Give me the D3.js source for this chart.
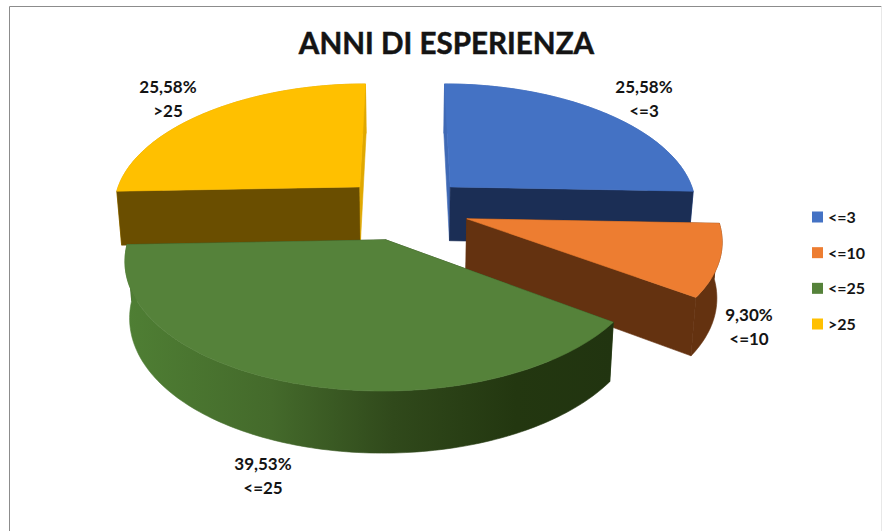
<!DOCTYPE html>
<html>
<head>
<meta charset="utf-8">
<script src="https://cdn.jsdelivr.net/npm/d3@7"></script>
<style>
  html, body { margin: 0; padding: 0; background: #fff; }
  text { font-family: Lato, "Open Sans", sans-serif; font-weight: 700; fill: #141414; }
</style>
</head>
<body>
<div id="chart"></div>
<script>
// data
const categories = ["<=3", "<=10", "<=25", ">25"];
const counts = [11, 4, 17, 11];
const percentLabels = ["25,58%", "9,30%", "39,53%", "25,58%"];
const title = "ANNI DI ESPERIENZA";

// colours per slice: top, outer wall, start face, end face
const topColors = ["#4472c4", "#ed7d31", "#55823a", "#ffc000"];
const wallColors = ["#3f69b5", "#643210", "url(#greenWall)", "#dba500"];
const startFace = ["#3f69b5", "#643210", "#2a4318", "#6a4e00"];
const endFace = ["#1b2e55", "#643210", "#2a4318", "#e0a800"];
// label centres, not marks
const labelAt = [[644, 88], [749, 316], [263, 465], [168, 88]];

const width = 885, height = 531;

const svg = d3.select("#chart").append("svg")
    .attr("width", width)
    .attr("height", height)
    .style("display", "block");

const defs = svg.append("defs");
const grad = defs.append("linearGradient").attr("id", "greenWall");
[[0, "#4f7f34"], [0.3, "#446a2b"], [0.55, "#30491b"], [0.8, "#233710"], [1, "#213410"]].forEach(s => {
    grad.append("stop").attr("offset", s[0]).attr("stop-color", s[1]);
});

// frame
svg.append("path")
    .attr("d", "M9.5,531V6.5H881.5")
    .attr("fill", "none")
    .attr("stroke", "#8c8c8c");
svg.append("path")
    .attr("d", "M881.5,6.5V531")
    .attr("fill", "none")
    .attr("stroke", "#e8e8e8");

// perspective of the pie plane, radius = 1, z = 0 top, z = 1 bottom
const xc = 405, xScale = 248, yHorizon = -710, hScale = 918.4, k = 0.1328, thick = 54.7, explode = 0.26;

function project(u, v, z) {
    const w = 1 + k * v;
    return [
        xc + xScale * u / (Math.pow(w, 1.1) * (1 + 0.017 * z)),
        yHorizon + hScale / w + thick * z / Math.pow(w, 0.7)
    ];
}

const pie = d3.pie().sort(null).value(d => d);
const arcs = pie(counts);
const line = d3.line();

function pointAt(d, a, r, z) {
    const mid = (d.startAngle + d.endAngle) / 2;
    const u = explode * Math.sin(mid) + r * Math.sin(a);
    const v = explode * Math.cos(mid) + r * Math.cos(a);
    return project(u, v, z);
}

function arcAngles(d) {
    const n = Math.ceil((d.endAngle - d.startAngle) / 0.02);
    return d3.range(n + 1).map(i => d.startAngle + (d.endAngle - d.startAngle) * i / n);
}

function drawPoly(g, pts, fill) {
    g.append("path")
        .attr("d", line(pts) + "Z")
        .attr("fill", fill)
        .attr("stroke", fill)
        .attr("stroke-width", 0.6)
        .attr("stroke-linejoin", "round");
}

function drawFaces(g, d, i) {
    [[d.startAngle, startFace[i]], [d.endAngle, endFace[i]]].forEach(f => {
        drawPoly(g, [
            pointAt(d, 0, 0, 0),
            pointAt(d, f[0], 1, 0),
            pointAt(d, f[0], 1, 1),
            pointAt(d, 0, 0, 1)
        ], f[1]);
    });
}

// back slices first
const pieG = svg.append("g");
[0, 3, 1, 2].forEach(i => {
    const d = arcs[i];
    const g = pieG.append("g").attr("class", "slice");
    const angles = arcAngles(d);
    // slices pointing at the viewer show their wall, the others their faces
    const facesFirst = Math.cos((d.startAngle + d.endAngle) / 2) < 0;

    if (facesFirst) drawFaces(g, d, i);

    const upper = angles.map(a => pointAt(d, a, 1, 0));
    const lower = angles.map(a => pointAt(d, a, 1, 1)).reverse();
    drawPoly(g, upper.concat(lower), wallColors[i]);

    if (!facesFirst) drawFaces(g, d, i);

    // top
    drawPoly(g, [pointAt(d, 0, 0, 0)].concat(upper), topColors[i]);
});

// title
svg.append("text")
    .attr("x", 446.5)
    .attr("y", 54)
    .attr("text-anchor", "middle")
    .attr("stroke", "#141414")
    .attr("stroke-width", 0.5)
    .style("font-size", "29.6px")
    .text(title);

// data labels
const labels = svg.append("g").selectAll("text")
    .data(categories)
    .join("text")
    .attr("text-anchor", "middle")
    .style("font-size", "17px");
labels.append("tspan")
    .attr("x", (d, i) => labelAt[i][0])
    .attr("y", (d, i) => labelAt[i][1] + 5)
    .text((d, i) => percentLabels[i]);
labels.append("tspan")
    .attr("x", (d, i) => labelAt[i][0])
    .attr("y", (d, i) => labelAt[i][1] + 29)
    .text(d => d);

// legend
const legendY = d3.scalePoint().domain(categories).range([217, 324]);
const legend = svg.append("g").selectAll("g")
    .data(categories)
    .join("g")
    .attr("transform", d => `translate(812,${legendY(d)})`);
legend.append("rect")
    .attr("y", -5.5)
    .attr("width", 11)
    .attr("height", 11)
    .attr("fill", (d, i) => topColors[i]);
legend.append("text")
    .attr("x", 16)
    .attr("y", 6)
    .style("font-size", "16px")
    .text(d => d);
</script>
</body>
</html>
